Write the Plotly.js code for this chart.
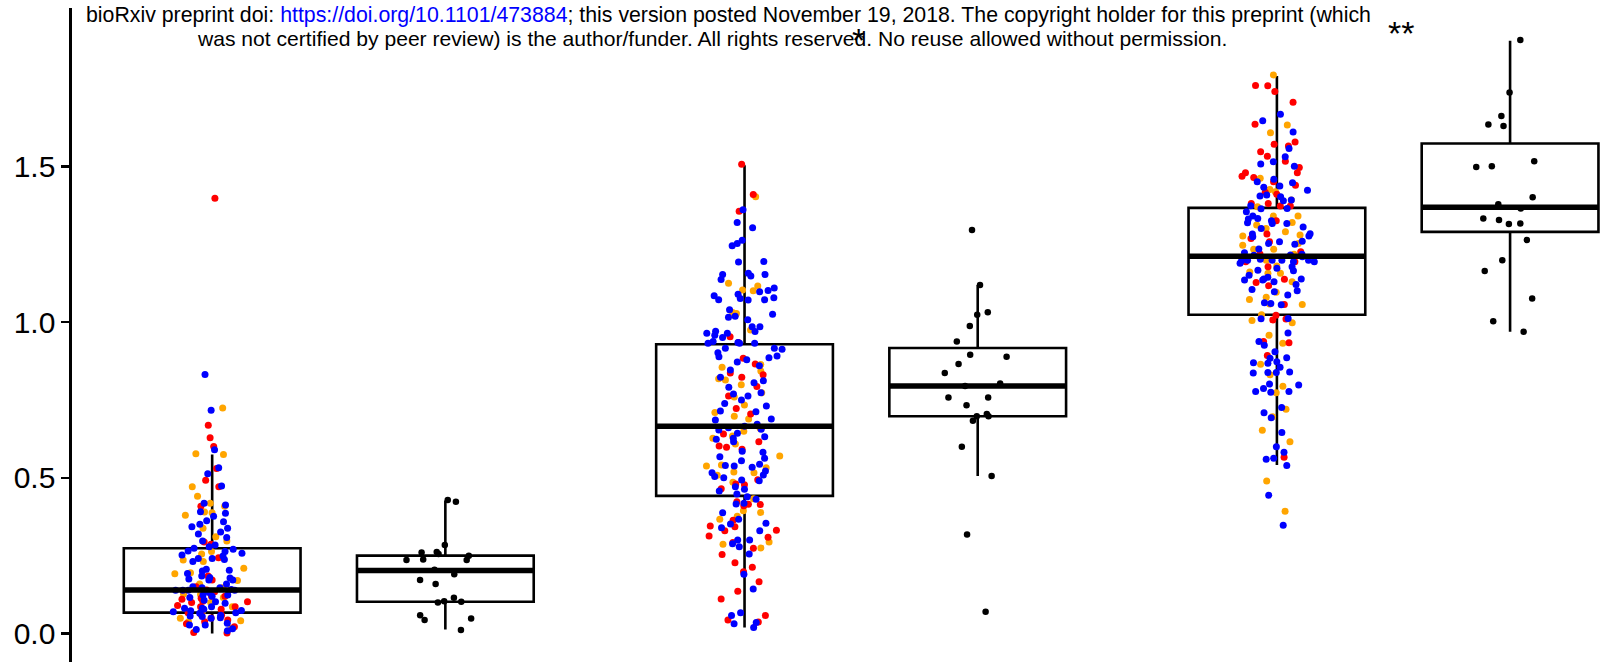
<!DOCTYPE html>
<html><head><meta charset="utf-8">
<script src="https://cdn.plot.ly/plotly-3.0.1.min.js"></script>
<style>html,body{margin:0;padding:0;background:#fff;} #chart{width:1610px;height:662px;}</style>
</head><body><div id="chart"></div>
<script>
// ---- data ----
const groupCategory = [1, 1, 2, 2, 3, 3];
const groupSide = [-1, 1, -1, 1, -1, 1];
const boxQ1 = [0.067, 0.102, 0.442, 0.698, 1.024, 1.290];
const boxMedian = [0.140, 0.202, 0.666, 0.795, 1.212, 1.369];
const boxQ3 = [0.274, 0.250, 0.929, 0.917, 1.367, 1.574];
const boxLower = [0.000, 0.013, 0.019, 0.506, 0.541, 0.969];
const boxUpper = [0.575, 0.427, 1.504, 1.119, 1.791, 1.904];

const red1 = [1.398, 0.669, 0.629, 0.601, 0.530, 0.492, 0.471, 0.409, 0.294, 0.287, 0.243, 0.185, 0.172, 0.150, 0.140, 0.134, 0.120, 0.120, 0.113, 0.102, 0.110, 0.104, 0.100, 0.090, 0.086, 0.086, 0.078, 0.067, 0.060, 0.059, 0.050, 0.043, 0.038, 0.031, 0.022, 0.002, 0.003];
const orange1 = [0.724, 0.575, 0.577, 0.471, 0.441, 0.418, 0.409, 0.380, 0.388, 0.390, 0.338, 0.311, 0.297, 0.263, 0.255, 0.236, 0.231, 0.210, 0.192, 0.195, 0.170, 0.159, 0.147, 0.127, 0.125, 0.116, 0.100, 0.086, 0.070, 0.049, 0.041, 0.038, 0.017];
const blue1 = [0.832, 0.717, 0.590, 0.532, 0.513, 0.474, 0.391, 0.413, 0.418, 0.386, 0.377, 0.362, 0.351, 0.359, 0.343, 0.338, 0.326, 0.320, 0.308, 0.297, 0.279, 0.284, 0.252, 0.271, 0.263, 0.265, 0.274, 0.258, 0.249, 0.231, 0.241, 0.241, 0.238, 0.206, 0.201, 0.203, 0.193, 0.180, 0.185, 0.178, 0.175, 0.172, 0.172, 0.159, 0.150, 0.147, 0.139, 0.141, 0.139, 0.139, 0.139, 0.147, 0.124, 0.132, 0.124, 0.116, 0.120, 0.102, 0.107, 0.097, 0.081, 0.081, 0.073, 0.086, 0.078, 0.067, 0.074, 0.070, 0.065, 0.059, 0.056, 0.049, 0.027, 0.051, 0.055, 0.033, 0.027, 0.013, 0.009, 0.015];
const black2 = [0.429, 0.423, 0.284, 0.262, 0.260, 0.255, 0.250, 0.238, 0.236, 0.236, 0.205, 0.190, 0.172, 0.159, 0.115, 0.104, 0.102, 0.100, 0.059, 0.048, 0.043, 0.011];

const red3 = [1.507, 1.410, 1.356, 0.953, 0.935, 0.884, 0.866, 0.837, 0.831, 0.823, 0.793, 0.763, 0.723, 0.705, 0.659, 0.641, 0.616, 0.602, 0.598, 0.592, 0.494, 0.480, 0.478, 0.465, 0.423, 0.415, 0.410, 0.414, 0.364, 0.345, 0.343, 0.330, 0.332, 0.313, 0.309, 0.292, 0.274, 0.254, 0.227, 0.213, 0.198, 0.166, 0.136, 0.111, 0.058, 0.043, 0.037];
const orange3 = [1.403, 1.125, 1.116, 1.101, 1.103, 1.031, 1.028, 0.975, 0.864, 0.855, 0.843, 0.814, 0.818, 0.799, 0.773, 0.760, 0.734, 0.710, 0.698, 0.689, 0.659, 0.650, 0.634, 0.627, 0.609, 0.570, 0.538, 0.541, 0.532, 0.516, 0.508, 0.519, 0.486, 0.433, 0.394, 0.389, 0.377, 0.367, 0.294, 0.287, 0.275];
const blue3 = [1.361, 1.320, 1.303, 1.263, 1.253, 1.245, 1.195, 1.193, 1.157, 1.153, 1.148, 1.153, 1.137, 1.102, 1.098, 1.110, 1.090, 1.085, 1.072, 1.078, 1.071, 1.072, 1.076, 1.040, 1.025, 1.016, 1.019, 1.008, 0.985, 0.985, 0.970, 0.964, 0.964, 0.971, 0.958, 0.951, 0.938, 0.932, 0.932, 0.932, 0.935, 0.916, 0.916, 0.913, 0.902, 0.889, 0.891, 0.886, 0.879, 0.872, 0.860, 0.846, 0.823, 0.805, 0.812, 0.791, 0.773, 0.763, 0.769, 0.750, 0.739, 0.731, 0.715, 0.712, 0.689, 0.686, 0.672, 0.666, 0.654, 0.661, 0.656, 0.643, 0.627, 0.616, 0.632, 0.624, 0.585, 0.582, 0.568, 0.563, 0.555, 0.544, 0.540, 0.538, 0.534, 0.522, 0.516, 0.509, 0.500, 0.504, 0.493, 0.491, 0.471, 0.463, 0.458, 0.448, 0.439, 0.431, 0.416, 0.418, 0.388, 0.367, 0.352, 0.354, 0.340, 0.330, 0.300, 0.300, 0.288, 0.279, 0.255, 0.190, 0.143, 0.067, 0.058, 0.035, 0.031, 0.019];
const black4 = [1.296, 1.119, 1.032, 1.024, 0.988, 0.938, 0.895, 0.889, 0.866, 0.837, 0.803, 0.795, 0.758, 0.758, 0.733, 0.698, 0.698, 0.705, 0.683, 0.600, 0.506, 0.318, 0.070];

const red5 = [1.759, 1.741, 1.760, 1.706, 1.636, 1.579, 1.571, 1.566, 1.547, 1.533, 1.517, 1.497, 1.480, 1.480, 1.465, 1.451, 1.469, 1.440, 1.417, 1.411, 1.381, 1.381, 1.373, 1.373, 1.326, 1.283, 1.269, 1.258, 1.226, 1.219, 1.194, 1.178, 1.194, 1.138, 1.127, 1.117, 1.057, 1.022, 1.007, 1.010, 0.938, 0.934, 0.893, 0.566];
const orange5 = [1.794, 1.633, 1.608, 1.462, 1.426, 1.419, 1.392, 1.371, 1.341, 1.341, 1.320, 1.312, 1.301, 1.290, 1.280, 1.277, 1.253, 1.247, 1.234, 1.234, 1.218, 1.199, 1.180, 1.161, 1.157, 1.157, 1.130, 1.096, 1.080, 1.073, 1.058, 1.057, 1.024, 1.005, 0.998, 0.958, 0.932, 0.865, 0.831, 0.794, 0.773, 0.720, 0.696, 0.653, 0.616, 0.490, 0.393];
const blue5 = [1.668, 1.647, 1.611, 1.558, 1.531, 1.515, 1.508, 1.501, 1.451, 1.459, 1.448, 1.433, 1.424, 1.437, 1.408, 1.405, 1.403, 1.390, 1.392, 1.374, 1.364, 1.365, 1.355, 1.341, 1.333, 1.326, 1.331, 1.317, 1.306, 1.317, 1.319, 1.301, 1.284, 1.283, 1.277, 1.274, 1.260, 1.253, 1.258, 1.250, 1.235, 1.218, 1.216, 1.199, 1.223, 1.210, 1.199, 1.202, 1.199, 1.194, 1.199, 1.215, 1.197, 1.194, 1.189, 1.173, 1.165, 1.178, 1.167, 1.151, 1.135, 1.144, 1.135, 1.121, 1.139, 1.139, 1.130, 1.101, 1.087, 1.098, 1.105, 1.060, 1.062, 1.056, 1.012, 1.011, 0.965, 0.938, 0.926, 0.905, 0.886, 0.884, 0.873, 0.870, 0.868, 0.855, 0.838, 0.838, 0.840, 0.837, 0.798, 0.801, 0.787, 0.777, 0.775, 0.777, 0.726, 0.709, 0.693, 0.646, 0.600, 0.582, 0.563, 0.560, 0.540, 0.444, 0.348];
const black6 = [1.906, 1.738, 1.662, 1.635, 1.630, 1.501, 1.517, 1.498, 1.401, 1.379, 1.365, 1.328, 1.333, 1.317, 1.315, 1.264, 1.199, 1.164, 1.076, 1.003, 0.969];

const tickValues = [0, 0.5, 1.0, 1.5];
const tickLabels = ['0.0', '0.5', '1.0', '1.5'];
const significance = [{cat: 1.995, level: 1.905, label: '*'}, {cat: 3.015, level: 1.93, label: '**'}];
const headerLine1 = 'bioRxiv preprint doi: <span style="color:#0000ff">https://doi.org/10.1101/473884</span>; this version posted November 19, 2018. The copyright holder for this preprint (which';
const headerLine2 = 'was not certified by peer review) is the author/funder. All rights reserved. No reuse allowed without permission.';

// ---- geometry / styles ----
const dodge = 0.219, boxW = 0.332, jitterW = 0.15;
const pos = groupCategory.map((c, i) => c + groupSide[i] * dodge);
const FONT = 'Liberation Sans, Arial, sans-serif';

const traces = [];
pos.forEach((p, i) => {
  traces.push({
    type: 'box', x: [p], q1: [boxQ1[i]], median: [boxMedian[i]], q3: [boxQ3[i]],
    lowerfence: [boxLower[i]], upperfence: [boxUpper[i]],
    width: boxW, whiskerwidth: 0, boxpoints: false,
    line: {color: '#000', width: 2.6}, fillcolor: '#ffffff',
    hoverinfo: 'skip', showlegend: false
  });
});
pos.forEach((p, i) => {
  traces.push({
    type: 'scatter', mode: 'lines', x: [p - boxW / 2, p + boxW / 2], y: [boxMedian[i], boxMedian[i]],
    line: {color: '#000', width: 5.5}, hoverinfo: 'skip', showlegend: false
  });
});
function pts(values, gi, color, size) {
  traces.push({
    type: 'box', x0: pos[gi], y: values, width: jitterW,
    boxpoints: 'all', jitter: 1, pointpos: 0,
    line: {width: 0, color: 'rgba(0,0,0,0)'}, fillcolor: 'rgba(0,0,0,0)',
    marker: {color: color, size: size, opacity: 1},
    hoveron: 'points', showlegend: false
  });
}
const RED = '#ff0000', ORANGE = '#ffa500', BLUE = '#0000ff';
pts(orange1, 0, ORANGE, 7); pts(red1, 0, RED, 7); pts(blue1, 0, BLUE, 7);
pts(black2, 1, '#000', 6.5);
pts(orange3, 2, ORANGE, 7); pts(red3, 2, RED, 7); pts(blue3, 2, BLUE, 7);
pts(black4, 3, '#000', 6.5);
pts(orange5, 4, ORANGE, 7); pts(red5, 4, RED, 7); pts(blue5, 4, BLUE, 7);
pts(black6, 5, '#000', 6.5);

const annotations = [
  {xref: 'paper', yref: 'paper', x: 0.427, y: 0.990, xanchor: 'center', yanchor: 'middle', showarrow: false,
   text: headerLine1, font: {family: FONT, size: 21.3, color: '#000'}},
  {xref: 'paper', yref: 'paper', x: 0.416, y: 0.953, xanchor: 'center', yanchor: 'middle', showarrow: false,
   text: headerLine2, font: {family: FONT, size: 21.1, color: '#000'}}
];
significance.forEach(s => annotations.push({
  xref: 'x', yref: 'y', x: s.cat, y: s.level, xanchor: 'center', yanchor: 'middle', showarrow: false,
  text: s.label, font: {family: FONT, size: 34, color: '#000'}
}));

const layout = {
  width: 1610, height: 662,
  margin: {l: 72, r: 0, t: 8, b: 0, pad: 0},
  paper_bgcolor: '#fff', plot_bgcolor: '#fff',
  boxmode: 'overlay', showlegend: false,
  xaxis: {visible: false, range: [0.5177, 3.4067], fixedrange: true},
  yaxis: {
    range: [-0.0915, 2.009], tickvals: tickValues, ticktext: tickLabels,
    showline: true, linecolor: '#000', linewidth: 2.6, ticks: 'outside', ticklen: 8, tickwidth: 2.4, tickcolor: '#000',
    showgrid: false, zeroline: false, tickfont: {family: FONT, size: 30, color: '#000'}
  },
  annotations: annotations
};
Plotly.newPlot('chart', traces, layout, {staticPlot: true});
</script></body></html>
